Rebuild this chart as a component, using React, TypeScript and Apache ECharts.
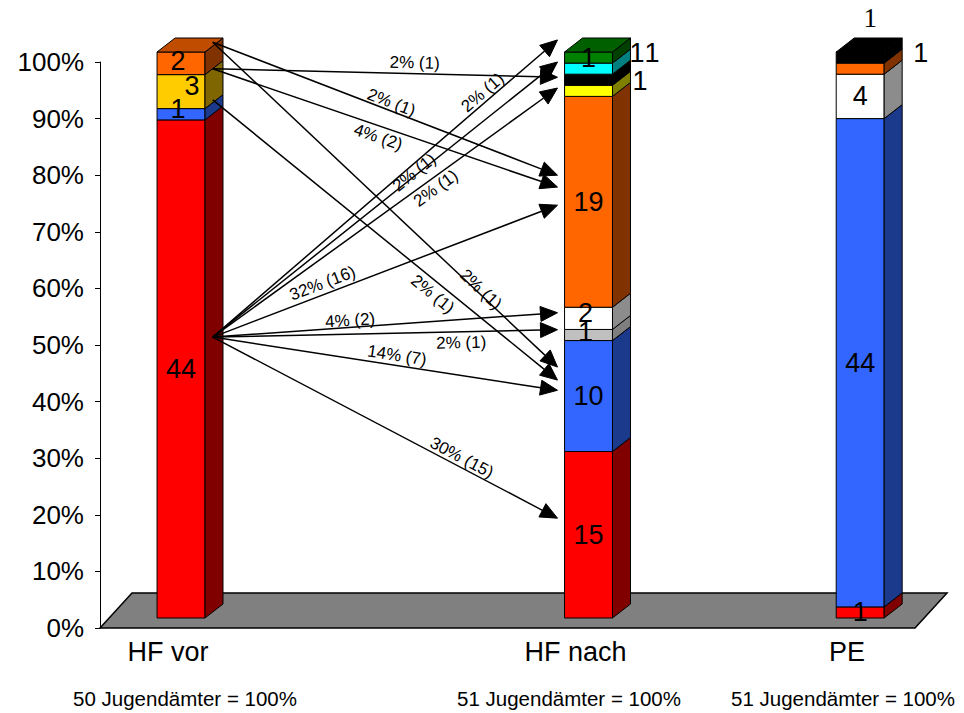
import React, { useEffect, useRef } from "react";
import * as echarts from "echarts";

// ---------- data ----------
const categories = ["HF vor", "", "", "HF nach", "", "PE"];
const barCategoryIndex = [0, 3, 5];
const totals = [50, 51, 51];
const footnotes = ["50 Jugendämter = 100%", "51 Jugendämter = 100%", "51 Jugendämter = 100%"];

// counts per bar (HF vor, HF nach, PE), stacked bottom to top in this order
const red = [44, 15, 1];
const blue = [1, 10, 44];
const gray = [0, 1, 0];
const white = [0, 2, 4];
const gold = [3, 0, 0];
const orange = [2, 19, 1];
const yellow = [0, 1, 0];
const black = [0, 1, 1];
const cyan = [0, 1, 0];
const green = [0, 1, 0];

// flows HF vor -> HF nach (positions in % of the axis, counts of Jugendämter)
const flowFromPct = [103.5, 103.5, 98.8, 98.8, 93.3, 51.4, 51.4, 51.4, 51.4, 51.4, 51.4, 51.4, 51.4];
const flowToPct = [80.0, 46.1, 97.3, 77.9, 43.8, 103.9, 100.0, 95.4, 74.7, 55.7, 52.7, 42.0, 19.4];
const flowCounts = [1, 1, 1, 2, 1, 1, 1, 1, 16, 2, 1, 7, 15];

// ---------- styles ----------
const FONT = "'Liberation Sans', Arial, sans-serif";
const SERIF = "'Liberation Serif', 'Times New Roman', serif";
const flowLabelT = [0.51, 0.77, 0.585, 0.49, 0.66, 0.8, 0.59, 0.63, 0.33, 0.4, 0.72, 0.53, 0.71];
const flowLabelOff = [8, 4, 11, -11, -12, 9, 3, -10, 11, 7, -11, 10, 9];
const footnoteX = [185, 569, 843];

const seriesKeys = ["red", "blue", "gray", "white", "gold", "orange", "yellow", "black", "cyan", "green"];
const seriesValues: Record<string, number[]> = { red, blue, gray, white, gold, orange, yellow, black, cyan, green };
const segStyles: Record<string, { front: string; side: string; top: string }> = {
  red: { front: "#FF0000", side: "#800000", top: "#C00000" },
  blue: { front: "#3366FF", side: "#1C3A8C", top: "#2650C0" },
  gray: { front: "#C0C0C0", side: "#7F7F7F", top: "#A0A0A0" },
  white: { front: "#FFFFFF", side: "#8C8C8C", top: "#C0C0C0" },
  gold: { front: "#FFCC00", side: "#806600", top: "#C09900" },
  orange: { front: "#FF6600", side: "#803300", top: "#C04C00" },
  yellow: { front: "#FFFF00", side: "#808000", top: "#C0C000" },
  black: { front: "#000000", side: "#000000", top: "#000000" },
  cyan: { front: "#00FFFF", side: "#008080", top: "#00C0C0" },
  green: { front: "#008000", side: "#004000", top: "#006000" },
};
const labelPlacement: Record<string, { anchor: string; dx: number; dy: number; serif?: boolean }> = {
  "0-orange": { anchor: "front", dx: -3, dy: -2 },
  "0-gold": { anchor: "front", dx: 11, dy: -6 },
  "0-blue": { anchor: "front", dx: -3, dy: -5 },
  "1-gray": { anchor: "front", dx: -3, dy: -3 },
  "1-white": { anchor: "front", dx: -3, dy: -5 },
  "1-cyan": { anchor: "side", dx: -1, dy: -16 },
  "1-black": { anchor: "side", dx: 14, dy: -27 },
  "1-yellow": { anchor: "side", dx: 2, dy: -10 },
  "2-orange": { anchor: "side", dx: 11, dy: -16 },
  "2-black": { anchor: "above", dx: 10, dy: -40, serif: true },
};
const DEPTH_X = 18;
const DEPTH_Y = 14;
const FRONT_SHIFT = 10;

type Seg = { cat: number; start: number; end: number; count: number; key: string; bar: number; top: boolean };
const segments: Seg[] = [];
barCategoryIndex.forEach((cat, b) => {
  let cum = 0;
  const keys = seriesKeys.filter((k) => seriesValues[k][b] > 0);
  keys.forEach((k, i) => {
    const v = seriesValues[k][b];
    const start = (cum / totals[b]) * 100;
    cum += v;
    const end = (cum / totals[b]) * 100;
    segments.push({ cat, start, end, count: v, key: k, bar: b, top: i === keys.length - 1 });
  });
});

export default function App() {
  const ref = useRef<HTMLDivElement>(null);
  useEffect(() => {
    if (!ref.current) return;
    const chart = echarts.init(ref.current, undefined, { renderer: "svg" });

    const floorSeries = {
      type: "custom",
      z: 1,
      clip: false,
      data: [[0, 0]],
      renderItem: (_p: any, api: any) => {
        const bw = api.size([1, 0])[0];
        const l = api.coord([0, 0]);
        const r = api.coord([categories.length - 1, 0]);
        const x0 = l[0] - bw / 2;
        const x1 = r[0] + bw / 2;
        const y0 = l[1];
        return {
          type: "polygon",
          shape: { points: [[x0, y0], [x1, y0], [x1 + 32, y0 - 35], [x0 + 32, y0 - 35]] },
          style: { fill: "#808080", stroke: "#000", lineWidth: 1.5 },
        };
      },
    };

    const barSeries = {
      type: "custom",
      z: 2,
      clip: false,
      data: segments.map((s) => [s.cat, s.start, s.end, s.count]),
      renderItem: (params: any, api: any) => {
        const seg = segments[params.dataIndex];
        const bw = api.size([1, 0])[0];
        const base = api.coord([seg.cat, seg.start]);
        const topP = api.coord([seg.cat, seg.end]);
        const left = base[0] - bw * 0.08;
        const w = bw * 0.353;
        const right = left + w;
        const yb = base[1] - FRONT_SHIFT;
        const yt = topP[1] - FRONT_SHIFT;
        const st = segStyles[seg.key];
        const children: any[] = [
          { type: "rect", shape: { x: left, y: yt, width: w, height: yb - yt }, style: { fill: st.front, stroke: "#000", lineWidth: 1 } },
          {
            type: "polygon",
            shape: { points: [[right, yb], [right + DEPTH_X, yb - DEPTH_Y], [right + DEPTH_X, yt - DEPTH_Y], [right, yt]] },
            style: { fill: st.side, stroke: "#000", lineWidth: 1 },
          },
        ];
        if (seg.top) {
          children.push({
            type: "polygon",
            shape: { points: [[left, yt], [left + DEPTH_X, yt - DEPTH_Y], [right + DEPTH_X, yt - DEPTH_Y], [right, yt]] },
            style: { fill: st.top, stroke: "#000", lineWidth: 1 },
          });
        }
        const pl = labelPlacement[`${seg.bar}-${seg.key}`] || { anchor: "front", dx: 0, dy: 0 };
        const midY = (yb + yt) / 2 + pl.dy;
        let lx = (left + right) / 2 + pl.dx;
        let align = "center";
        if (pl.anchor === "side") {
          lx = right + DEPTH_X + pl.dx;
          align = "left";
        }
        children.push({
          type: "text",
          z2: 100,
          x: lx,
          y: midY,
          style: {
            text: String(seg.count),
            fill: "#000",
            fontSize: 27,
            fontFamily: pl.serif ? SERIF : FONT,
            align,
            verticalAlign: "middle",
          },
        });
        return { type: "group", children };
      },
    };

    const arrowSeries = {
      type: "custom",
      z: 3,
      clip: false,
      data: flowCounts.map((c, i) => [barCategoryIndex[0], flowFromPct[i], barCategoryIndex[1], flowToPct[i], c]),
      renderItem: (params: any, api: any) => {
        const i = params.dataIndex;
        const bw = api.size([1, 0])[0];
        const s = api.coord([api.value(0), api.value(1)]);
        const e = api.coord([api.value(2), api.value(3)]);
        const x0 = s[0] + bw * 0.33;
        const y0 = s[1];
        const x1 = e[0] - bw * 0.132;
        const y1 = e[1];
        const dx = x1 - x0;
        const dy = y1 - y0;
        const len = Math.sqrt(dx * dx + dy * dy);
        const ux = dx / len;
        const uy = dy / len;
        const nx = uy;
        const ny = -ux;
        const L = 17;
        const W = 7.5;
        const bx = x1 - ux * L;
        const by = y1 - uy * L;
        const t = flowLabelT[i];
        const off = flowLabelOff[i];
        const lx = x0 + dx * t + nx * off;
        const ly = y0 + dy * t + ny * off;
        const count = api.value(4);
        const pct = Math.round((count / totals[0]) * 100);
        return {
          type: "group",
          children: [
            { type: "line", shape: { x1: x0, y1: y0, x2: bx, y2: by }, style: { stroke: "#000", lineWidth: 1.5 } },
            {
              type: "polygon",
              shape: { points: [[x1, y1], [bx + nx * W, by + ny * W], [bx - nx * W, by - ny * W]] },
              style: { fill: "#000", stroke: "#000", lineWidth: 1 },
            },
            {
              type: "text",
              x: lx,
              y: ly,
              rotation: -Math.atan2(dy, dx),
              style: {
                text: `${pct}% (${count})`,
                fill: "#000",
                fontSize: 17,
                fontFamily: FONT,
                align: "center",
                verticalAlign: "middle",
              },
            },
          ],
        };
      },
    };

    const option: any = {
      animation: false,
      backgroundColor: "#ffffff",
      grid: { left: 100, right: 49, top: 62, bottom: 85, containLabel: false },
      xAxis: {
        type: "category",
        data: categories,
        axisLine: { show: false },
        axisTick: { show: false },
        splitLine: { show: false },
        axisLabel: { interval: 0, fontSize: 27, color: "#000", fontFamily: FONT, margin: 10 },
      },
      yAxis: {
        type: "value",
        min: 0,
        max: 100,
        interval: 10,
        axisLine: { show: true, lineStyle: { color: "#000", width: 1 } },
        axisTick: { show: true, inside: false, length: 5, lineStyle: { color: "#000" } },
        splitLine: { show: false },
        axisLabel: { formatter: "{value}%", fontSize: 26, color: "#000", fontFamily: FONT, margin: 16 },
      },
      graphic: footnotes.map((t, i) => ({
        type: "text",
        x: footnoteX[i],
        y: 698,
        style: { text: t, fill: "#000", fontSize: 20.5, fontFamily: FONT, align: "center", verticalAlign: "middle" },
      })),
      series: [floorSeries, barSeries, arrowSeries],
    };
    chart.setOption(option);
    return () => chart.dispose();
  }, []);
  return <div ref={ref} style={{ position: "fixed", left: 0, top: 0, width: 964, height: 713, background: "#fff" }} />;
}
